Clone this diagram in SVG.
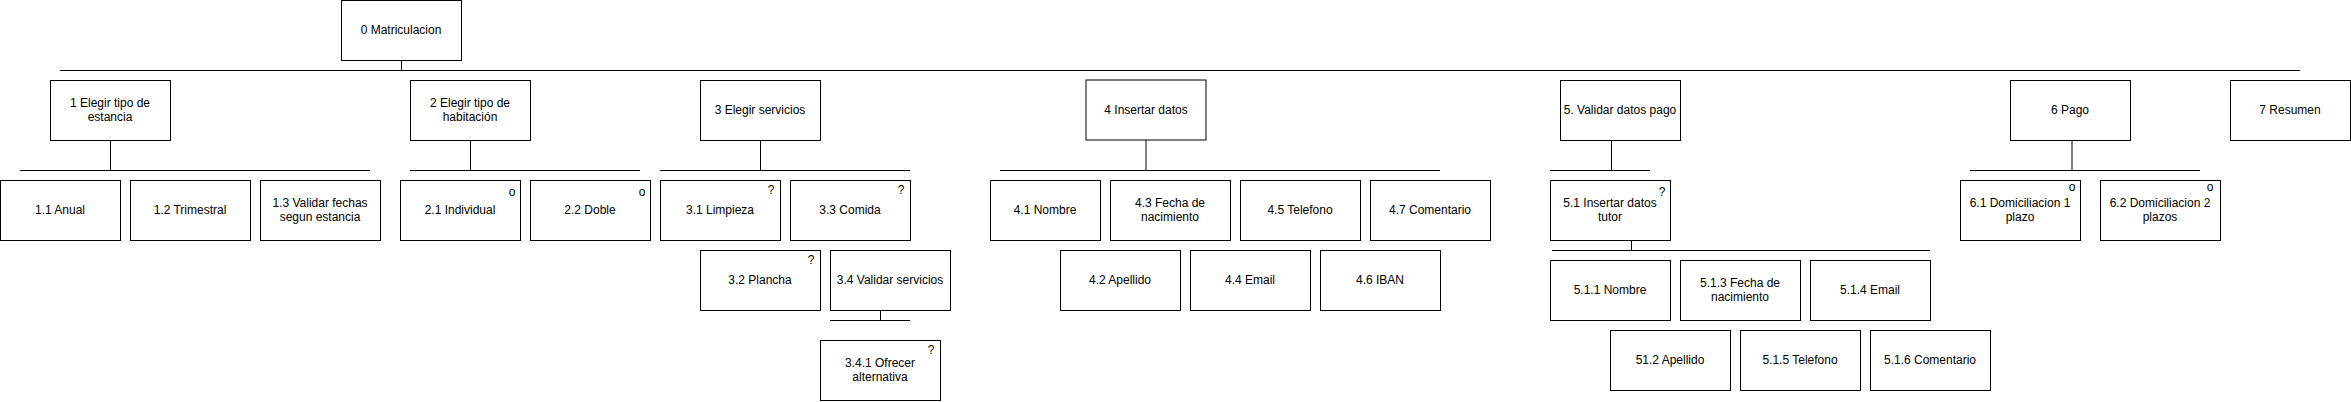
<svg xmlns="http://www.w3.org/2000/svg" width="2351" height="402" viewBox="0 0 2351 402">
<style>
.box{fill:#fff;stroke:#000;stroke-width:1}
.ln{fill:none;stroke:#000;stroke-width:1}
text{font-family:"Liberation Sans",Arial,Helvetica,sans-serif;font-size:12px;fill:#000;text-anchor:middle;dominant-baseline:central}
</style>
<rect width="2351" height="402" fill="#fff"/>
<g id="connectors">
<path class="ln" d="M401.5 60V70.5M60 70.5H2300"/>
<path class="ln" d="M110.5 140V170.5M20 170.5H370"/>
<path class="ln" d="M470.5 140V170.5M410 170.5H640"/>
<path class="ln" d="M760.5 140V170.5M660 170.5H910"/>
<path class="ln" d="M880.5 310V320.5M830 320.5H910"/>
<path class="ln" d="M1146 140V170.5M1000 170.5H1440"/>
<path class="ln" d="M1611.5 140V170.5M1550 170.5H1650"/>
<path class="ln" d="M1631.5 240V250.5M1552 250.5H1930"/>
<path class="ln" d="M2072 140V170.5M1970 170.5H2200"/>
</g>
<g id="n0"><rect class="box" x="341.5" y="0.5" width="120" height="60"/><text x="401" y="30">0 Matriculacion</text></g>
<g id="n1"><rect class="box" x="50.5" y="80.5" width="120" height="60"/><text x="110" y="103">1 Elegir tipo de</text><text x="110" y="117">estancia</text></g>
<g id="n1_1"><rect class="box" x="0.5" y="180.5" width="120" height="60"/><text x="60" y="210">1.1 Anual</text></g>
<g id="n1_2"><rect class="box" x="130.5" y="180.5" width="120" height="60"/><text x="190" y="210">1.2 Trimestral</text></g>
<g id="n1_3"><rect class="box" x="260.5" y="180.5" width="120" height="60"/><text x="320" y="203">1.3 Validar fechas</text><text x="320" y="217">segun estancia</text></g>
<g id="n2"><rect class="box" x="410.5" y="80.5" width="120" height="60"/><text x="470" y="103">2 Elegir tipo de</text><text x="470" y="117">habitación</text></g>
<g id="n2_1"><rect class="box" x="400.5" y="180.5" width="120" height="60"/><text x="460" y="210">2.1 Individual</text><text x="512" y="192">o</text></g>
<g id="n2_2"><rect class="box" x="530.5" y="180.5" width="120" height="60"/><text x="590" y="210">2.2 Doble</text><text x="642" y="192">o</text></g>
<g id="n3"><rect class="box" x="700.5" y="80.5" width="120" height="60"/><text x="760" y="110">3 Elegir servicios</text></g>
<g id="n3_1"><rect class="box" x="660.5" y="180.5" width="120" height="60"/><text x="720" y="210">3.1 Limpieza</text><text x="771" y="190">?</text></g>
<g id="n3_3"><rect class="box" x="790.5" y="180.5" width="120" height="60"/><text x="850" y="210">3.3 Comida</text><text x="901" y="190">?</text></g>
<g id="n3_2"><rect class="box" x="700.5" y="250.5" width="120" height="60"/><text x="760" y="280">3.2 Plancha</text><text x="811" y="260">?</text></g>
<g id="n3_4"><rect class="box" x="830.5" y="250.5" width="120" height="60"/><text x="890" y="280">3.4 Validar servicios</text></g>
<g id="n3_4_1"><rect class="box" x="820.5" y="340.5" width="120" height="60"/><text x="880" y="363">3.4.1 Ofrecer</text><text x="880" y="377">alternativa</text><text x="931" y="350">?</text></g>
<g id="n4"><rect class="box" x="1086" y="80" width="120" height="60"/><text x="1146" y="110">4 Insertar datos</text></g>
<g id="n4_1"><rect class="box" x="990.5" y="180.5" width="110" height="60"/><text x="1045" y="210">4.1 Nombre</text></g>
<g id="n4_3"><rect class="box" x="1110.5" y="180.5" width="120" height="60"/><text x="1170" y="203">4.3 Fecha de</text><text x="1170" y="217">nacimiento</text></g>
<g id="n4_5"><rect class="box" x="1240.5" y="180.5" width="120" height="60"/><text x="1300" y="210">4.5 Telefono</text></g>
<g id="n4_7"><rect class="box" x="1370.5" y="180.5" width="120" height="60"/><text x="1430" y="210">4.7 Comentario</text></g>
<g id="n4_2"><rect class="box" x="1060.5" y="250.5" width="120" height="60"/><text x="1120" y="280">4.2 Apellido</text></g>
<g id="n4_4"><rect class="box" x="1190.5" y="250.5" width="120" height="60"/><text x="1250" y="280">4.4 Email</text></g>
<g id="n4_6"><rect class="box" x="1320.5" y="250.5" width="120" height="60"/><text x="1380" y="280">4.6 IBAN</text></g>
<g id="n5"><rect class="box" x="1560.5" y="80.5" width="120" height="60"/><text x="1620" y="110">5. Validar datos pago</text></g>
<g id="n5_1"><rect class="box" x="1550.5" y="180.5" width="120" height="60"/><text x="1610" y="203">5.1 Insertar datos</text><text x="1610" y="217">tutor</text><text x="1662" y="192">?</text></g>
<g id="n5_1_1"><rect class="box" x="1550.5" y="260.5" width="120" height="60"/><text x="1610" y="290">5.1.1 Nombre</text></g>
<g id="n5_1_3"><rect class="box" x="1680.5" y="260.5" width="120" height="60"/><text x="1740" y="283">5.1.3 Fecha de</text><text x="1740" y="297">nacimiento</text></g>
<g id="n5_1_4"><rect class="box" x="1810.5" y="260.5" width="120" height="60"/><text x="1870" y="290">5.1.4 Email</text></g>
<g id="n5_1_2"><rect class="box" x="1610.5" y="330.5" width="120" height="60"/><text x="1670" y="360">51.2 Apellido</text></g>
<g id="n5_1_5"><rect class="box" x="1740.5" y="330.5" width="120" height="60"/><text x="1800" y="360">5.1.5 Telefono</text></g>
<g id="n5_1_6"><rect class="box" x="1870.5" y="330.5" width="120" height="60"/><text x="1930" y="360">5.1.6 Comentario</text></g>
<g id="n6"><rect class="box" x="2010.5" y="80.5" width="120" height="60"/><text x="2070" y="110">6 Pago</text></g>
<g id="n6_1"><rect class="box" x="1960.5" y="180.5" width="120" height="60"/><text x="2020" y="203">6.1 Domiciliacion 1</text><text x="2020" y="217">plazo</text><text x="2072" y="187">o</text></g>
<g id="n6_2"><rect class="box" x="2100.5" y="180.5" width="120" height="60"/><text x="2160" y="203">6.2 Domiciliacion 2</text><text x="2160" y="217">plazos</text><text x="2210" y="187">o</text></g>
<g id="n7"><rect class="box" x="2230.5" y="80.5" width="120" height="60"/><text x="2290" y="110">7 Resumen</text></g>
</svg>
